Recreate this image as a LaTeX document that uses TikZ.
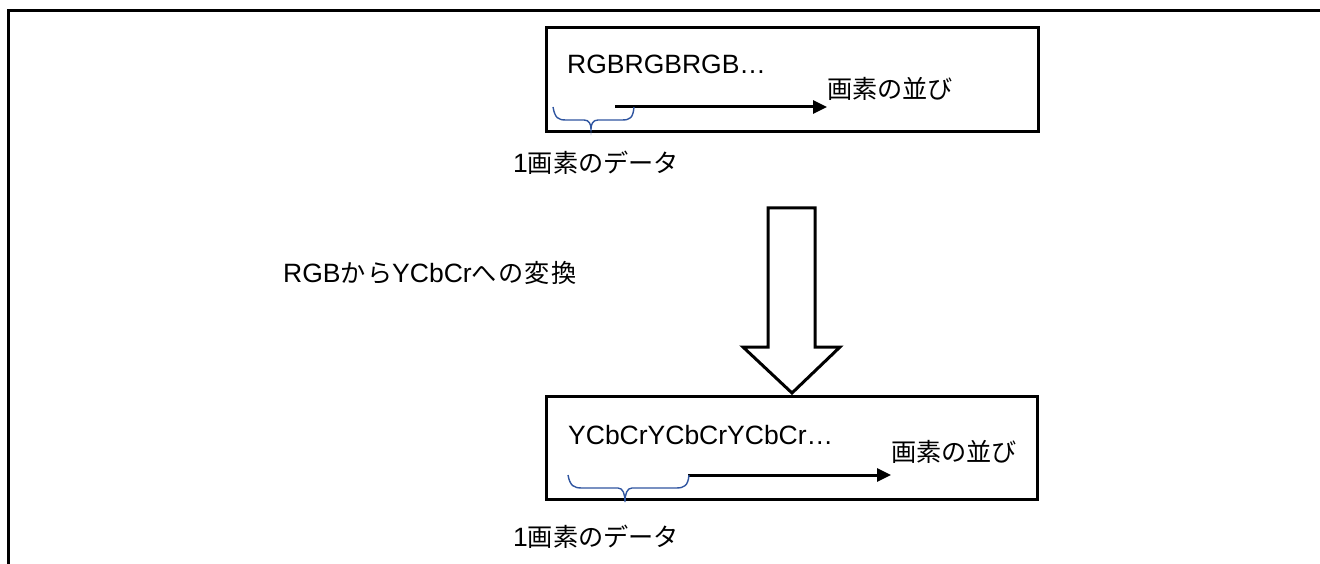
\documentclass[tikz,border=0pt]{standalone}
\usepackage{fontspec}
\setmainfont{Liberation Sans}
\newfontfamily\jp{Noto Sans CJK JP}[Scale=0.95]
\newfontfamily\jpw{Noto Sans CJK JP}[Scale=0.95,LetterSpace=5]
\usetikzlibrary{arrows.meta}
\definecolor{braceblue}{RGB}{47,85,160}
\tikzset{
  frame/.style={line width=3pt},
  lbl/.style={anchor=west, inner sep=0pt, font=\fontsize{26.5}{30}\selectfont},
  flow/.style={line width=3pt, -{Triangle[length=14pt,width=13pt]}},
  brace/.style={draw=braceblue, line width=1.4pt},
  bigarrow/.style={line width=3pt, fill=white, line join=miter}
}
\begin{document}
\begin{tikzpicture}[x=1pt,y=-1pt]
\useasboundingbox (0,0) rectangle (1320,564);
% outer frame
\draw[frame] (1320,11) -- (8,11) -- (8,564);
% top box
\node[frame, draw, minimum width=492pt, minimum height=104pt, anchor=north west, inner sep=0pt] (topbox) at (545,26) {};
\node[lbl] (rgb) at (567,64) {RGBRGBRGB…};
\coordinate (a1s) at (615,107);
\node[lbl] (ord1) at (827,89) {\jp 画素の並び};
\draw[flow] (a1s) -- (ord1.west |- a1s);
\draw[brace] (553,107) .. controls (555,118) and (558,120) .. (566,120) -- (584,120) .. controls (589,120) and (591,124) .. (591,129) .. controls (591,124) and (593,120) .. (598,120) -- (622,120) .. controls (630,120) and (633,118) .. (634,107);
\node[lbl] (px1) at (513,163) {1{\jp 画素のデータ}};
% conversion label
\node[lbl] (conv) at (283,273) {RGB{\jpw から}YCbCr{\jpw への変換}};
% big arrow
\draw[bigarrow] (768,208) -- (815,208) -- (815,347) -- (840,347) -- (792,393) -- (743,347) -- (768,347) -- cycle;
% bottom box
\node[frame, draw, minimum width=491pt, minimum height=103pt, anchor=north west, inner sep=0pt] (botbox) at (545,395) {};
\node[lbl] (ycc) at (568,435) {YCbCrYCbCrYCbCr…};
\coordinate (a2s) at (688,475);
\node[lbl] (ord2) at (891,452) {\jp 画素の並び};
\draw[flow] (a2s) -- (ord2.west |- a2s);
\draw[brace] (568,475) .. controls (570,486) and (574,488) .. (582,488) -- (618,488) .. controls (623,488) and (625,494) .. (625,502) .. controls (625,494) and (627,488) .. (632,488) -- (676,488) .. controls (684,488) and (688,486) .. (689,475);
\node[lbl] (px2) at (513,537) {1{\jp 画素のデータ}};
\end{tikzpicture}
\end{document}
